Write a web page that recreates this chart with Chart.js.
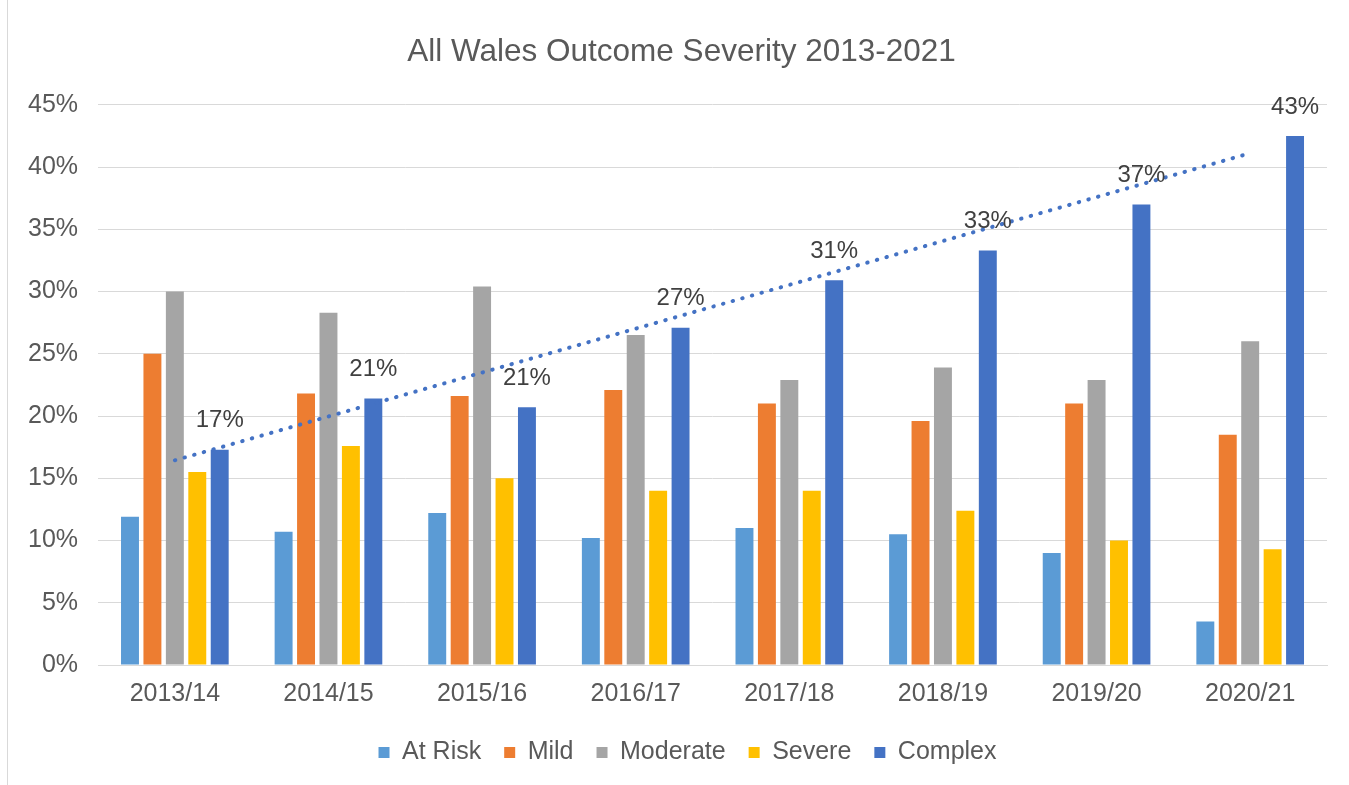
<!DOCTYPE html>
<html>
<head>
<meta charset="utf-8">
<script src="https://cdn.jsdelivr.net/npm/chart.js@4.4.0/dist/chart.umd.min.js"></script>
<style>
  body { margin: 0; background: #fff; }
  #wrap { position: relative; width: 1349px; height: 785px; }
  #edge { position: absolute; left: 7px; top: 0; width: 1px; height: 785px; background: #d9d9d9; }
</style>
</head>
<body>
<div id="wrap">
  <canvas id="barChart" width="1349" height="785"></canvas>
  <div id="edge"></div>
</div>
<script>
var years = ['2013/14', '2014/15', '2015/16', '2016/17', '2017/18', '2018/19', '2019/20', '2020/21'];
var atRisk   = [11.9, 10.7, 12.2, 10.2, 11.0, 10.5, 9.0, 3.5];
var mild     = [25.0, 21.8, 21.6, 22.1, 21.0, 19.6, 21.0, 18.5];
var moderate = [30.0, 28.3, 30.4, 26.5, 22.9, 23.9, 22.9, 26.0];
var severe   = [15.5, 17.6, 15.0, 14.0, 14.0, 12.4, 10.0, 9.3];
var complex  = [17.3, 21.4, 20.7, 27.1, 30.9, 33.3, 37.0, 42.5];
var yTicks   = [0, 5, 10, 15, 20, 25, 30, 35, 40, 45];

// linear trendline of Complex (least squares, like Excel)
function linearTrend(vals) {
    var n = vals.length, sx = 0, sy = 0, sxy = 0, sxx = 0;
    for (var i = 0; i < n; i++) {
        sx += i; sy += vals[i]; sxy += i * vals[i]; sxx += i * i;
    }
    var slope = (n * sxy - sx * sy) / (n * sxx - sx * sx);
    var icpt = (sy - slope * sx) / n;
    return vals.map(function (v, i) { return icpt + slope * i; });
}
var complexTrend = linearTrend(complex);

var textColor = '#595959';
var fontFamily = '"Liberation Sans", Arial, sans-serif';

// value labels above the Complex bars
var complexLabels = {
    id: 'complexLabels',
    afterLayout: function (chart) {
        // title and legend sit a bit right of the canvas centre in the original
        chart.titleBlock.left += 14; chart.titleBlock.right += 14;
        chart.legend.left += 20; chart.legend.right += 20;
    },
    afterDatasetsDraw: function (chart) {
        var ctx = chart.ctx;
        var idx = chart.data.datasets.findIndex(function (d) { return d.label === 'Complex'; });
        var meta = chart.getDatasetMeta(idx);
        ctx.save();
        ctx.font = '24px ' + fontFamily;
        ctx.fillStyle = '#404040';
        ctx.textAlign = 'center';
        ctx.textBaseline = 'middle';
        meta.data.forEach(function (bar, i) {
            ctx.fillText(Math.round(complex[i]) + '%', bar.x, bar.y - 29);
        });
        ctx.restore();
    }
};

function barSet(label, data, color) {
    return {
        type: 'bar',
        label: label,
        data: data,
        backgroundColor: color,
        categoryPercentage: 0.73,
        barPercentage: 0.8,
        order: 1
    };
}

var ctx = document.getElementById('barChart');
var myChart = new Chart(ctx, {
    data: {
        labels: years,
        datasets: [
            {
                type: 'line',
                label: 'Trend',
                data: complexTrend,
                borderColor: '#4472C4',
                borderWidth: 4,
                borderDash: [0.5, 9.5],
                borderCapStyle: 'round',
                pointRadius: 0,
                fill: false,
                order: 0
            },
            barSet('At Risk', atRisk, '#5B9BD5'),
            barSet('Mild', mild, '#ED7D31'),
            barSet('Moderate', moderate, '#A5A5A5'),
            barSet('Severe', severe, '#FFC000'),
            barSet('Complex', complex, '#4472C4')
        ]
    },
    options: {
        responsive: false,
        animation: false,
        layout: { padding: { left: 8, right: 22, top: 0, bottom: 10 } },
        scales: {
            x: {
                grid: { display: false, drawTicks: false },
                border: { color: '#d9d9d9', width: 1 },
                ticks: { color: textColor, font: { family: fontFamily, size: 25 }, padding: 14 },
                afterFit: function (axis) { axis.height -= 6; }
            },
            y: {
                min: 0,
                max: 45,
                afterBuildTicks: function (axis) {
                    axis.ticks = yTicks.map(function (v) { return { value: v }; });
                },
                grid: { color: '#d9d9d9', drawTicks: false },
                border: { display: false },
                ticks: {
                    color: textColor,
                    font: { family: fontFamily, size: 25 },
                    padding: 20,
                    callback: function (v) { return v + '%'; }
                }
            }
        },
        plugins: {
            title: {
                display: true,
                text: 'All Wales Outcome Severity 2013-2021',
                color: textColor,
                font: { family: fontFamily, size: 31.5, weight: 'normal' },
                padding: { top: 33, bottom: 34 }
            },
            legend: {
                position: 'bottom',
                labels: {
                    color: textColor,
                    font: { family: fontFamily, size: 25 },
                    boxWidth: 11,
                    boxHeight: 11,
                    padding: 23,
                    filter: function (item) { return item.text !== 'Trend'; }
                }
            },
            tooltip: { enabled: false }
        }
    },
    plugins: [complexLabels]
});
</script>
</body>
</html>
